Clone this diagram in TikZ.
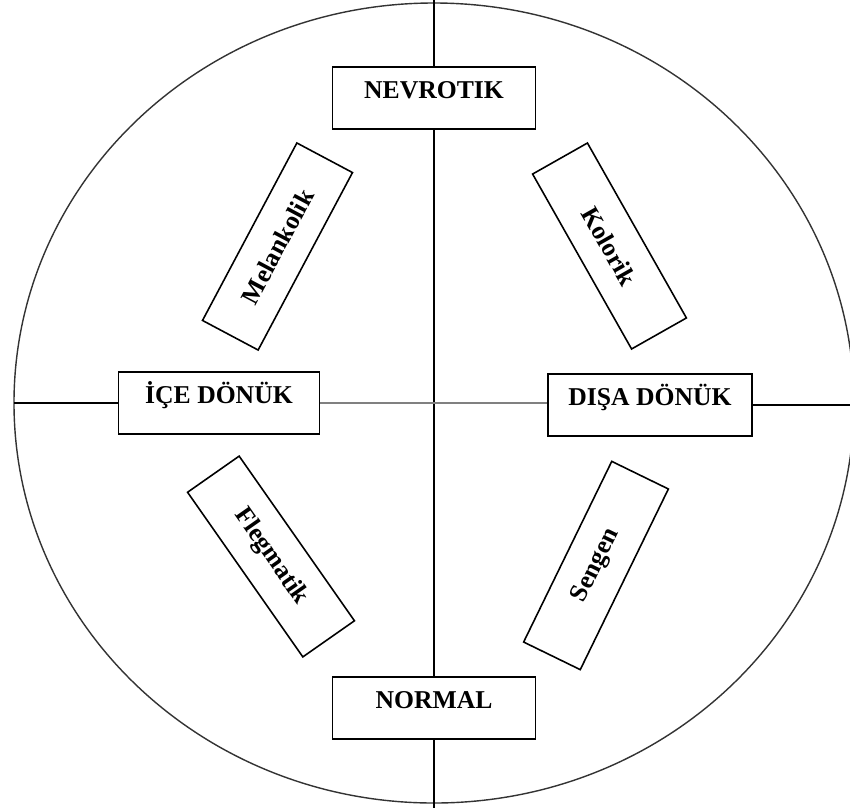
\documentclass[tikz,border=0pt]{standalone}
\usepackage{fontspec}
\setmainfont{Liberation Serif}
\begin{document}
\begin{tikzpicture}[
    axisbox/.style={draw, line width=0.45pt, fill=white, inner sep=0pt,
        minimum width=2.03cm, text height=0.31cm, text depth=0.31cm,
        font=\fontsize{7.3pt}{9pt}\selectfont\bfseries},
    typebox/.style={draw, line width=0.45pt, fill=white, inner sep=0pt,
        minimum width=2.01cm, minimum height=0.63cm,
        font=\fontsize{7.3pt}{9pt}\selectfont\bfseries},
    axisline/.style={line width=0.45pt}
]
    \useasboundingbox (-4.34, -4.05) rectangle (4.16, 4.03);
    \clip (-4.34, -4.05) rectangle (4.16, 4.03);

    % Outer circle
    \draw[black!80, line width=0.4pt] (0, 0) ellipse (4.2 and 4.0);

    % === Axis boxes ===
    \node[axisbox] (nevrotik) at (0, 3.05) {NEVROTIK};
    \node[axisbox] (normal) at (0, -3.05) {NORMAL};
    \node[axisbox, minimum width=2.01cm] (ice) at (-2.15, 0) {İÇE DÖNÜK};
    \node[axisbox, minimum width=2.04cm] (disa) at (2.16, -0.02) {DIŞA DÖNÜK};

    % Ends of the axes
    \coordinate (top) at (0, 4.03);
    \coordinate (bottom) at (0, -4.05);
    \coordinate (left) at (-4.2, 0);
    \coordinate (right) at (4.2, -0.02);

    % Vertical axis
    \draw[axisline] (top) -- (nevrotik.north);
    \draw[axisline] (nevrotik.south) -- (normal.north);
    \draw[axisline] (normal.south) -- (bottom);

    % Horizontal axis
    \draw[axisline] (left) -- (ice.west);
    \draw[gray, line width=0.6pt] (ice.east) -- (ice.east -| disa.west);
    \draw[axisline] (disa.east) -- (right);

    % === Temperament boxes ===
    \node[typebox, rotate=62] (melankolik) at (-1.565, 1.565) {Melankolik};
    \node[typebox, rotate=-60.5] (kolorik) at (1.755, 1.57) {Kolorik};
    \node[typebox, rotate=-55] (flegmatik) at (-1.63, -1.535) {Flegmatik};
    \node[typebox, rotate=64] (sengen) at (1.62, -1.625) {Sengen};

\end{tikzpicture}
\end{document}
